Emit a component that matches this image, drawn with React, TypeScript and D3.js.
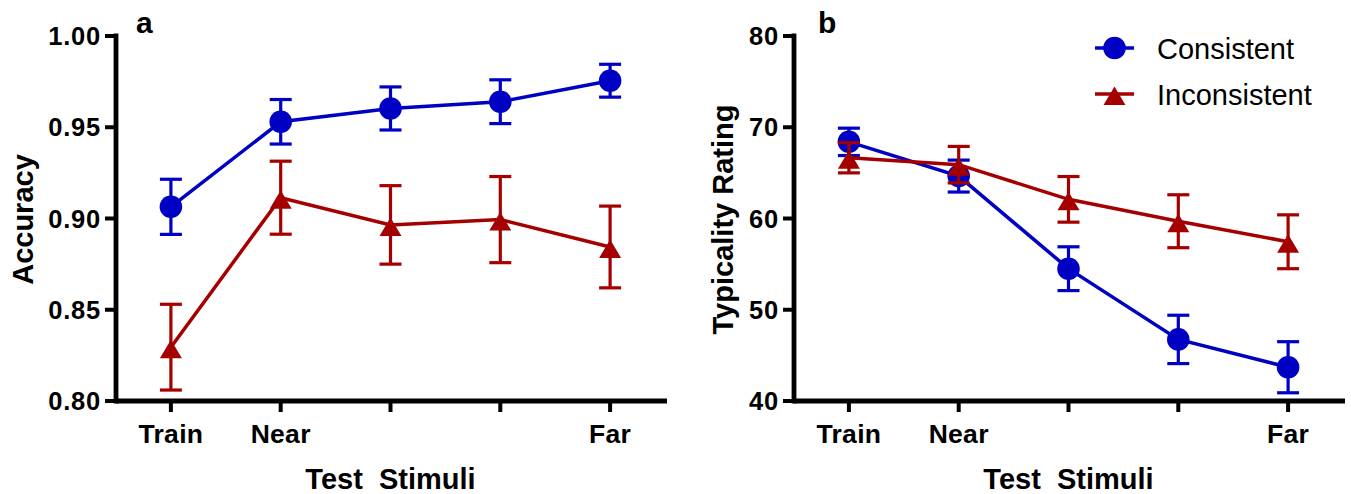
import React from "react";
import * as d3 from "d3";

const categories = ["Train", "Near", "", "", "Far"];
const accConsistent = [0.9064, 0.953, 0.9603, 0.964, 0.9755];
const accConsistentErr = [0.0151, 0.0122, 0.0118, 0.012, 0.009];
const accInconsistent = [0.8295, 0.9114, 0.8965, 0.8994, 0.8844];
const accInconsistentErr = [0.0235, 0.02, 0.0215, 0.0236, 0.0224];
const typConsistent = [68.4, 64.65, 54.5, 46.75, 43.7];
const typConsistentErr = [1.5, 1.75, 2.4, 2.65, 2.8];
const typInconsistent = [66.65, 65.9, 62.1, 59.7, 57.45];
const typInconsistentErr = [1.65, 2.0, 2.5, 2.9, 2.95];
const accTicks = [0.8, 0.85, 0.9, 0.95, 1.0];
const typTicks = [40, 50, 60, 70, 80];
const seriesNames = ["Consistent", "Inconsistent"];

const BLUE = "#0000C4";
const RED = "#A50000";
const FONT = "'Liberation Sans', Arial, Helvetica, sans-serif";

const TOP = 36;
const BOTTOM = 401;

type Series = { vals: number[]; errs: number[]; color: string; marker: "circle" | "triangle" };

function Marker({ kind, x, y, color }: { kind: string; x: number; y: number; color: string }) {
  if (kind === "circle") return <circle cx={x} cy={y} r={11.3} fill={color} />;
  return <path d={`M${x},${y - 7.5} L${x + 11},${y + 11} L${x - 11},${y + 11} Z`} fill={color} />;
}

function Panel({
  axisX, endX, yDomain, ticks, fmt, series, yTitle, titleX, label, labelX,
}: {
  axisX: number; endX: number; yDomain: [number, number]; ticks: number[]; fmt: (v: number) => string;
  series: Series[]; yTitle: string; titleX: number; label: string; labelX: number;
}) {
  const x = d3.scaleLinear().domain([-0.5, 4.5]).range([axisX, endX - 2]);
  const y = d3.scaleLinear().domain(yDomain).range([BOTTOM, TOP]);
  const idx = d3.range(categories.length);
  const line = d3.line<number>().x((_, i) => x(i)).y((d) => y(d));
  return (
    <g>
      {series.map((s, si) => (
        <g key={"e" + si}>
          {s.vals.map((v, i) => (
            <g key={i} stroke={s.color} strokeWidth={3.2}>
              <line x1={x(i)} x2={x(i)} y1={y(v - s.errs[i])} y2={y(v + s.errs[i])} />
              <line x1={x(i) - 11} x2={x(i) + 11} y1={y(v + s.errs[i])} y2={y(v + s.errs[i])} />
              <line x1={x(i) - 11} x2={x(i) + 11} y1={y(v - s.errs[i])} y2={y(v - s.errs[i])} />
            </g>
          ))}
          <path d={line(s.vals) || ""} fill="none" stroke={s.color} strokeWidth={3.5} />
          {s.vals.map((v, i) => (
            <Marker key={"m" + i} kind={s.marker} x={x(i)} y={y(v)} color={s.color} />
          ))}
        </g>
      ))}
      <line x1={axisX} x2={axisX} y1={TOP - 2.5} y2={BOTTOM + 2.5} stroke="#000" strokeWidth={4.8} />
      <line x1={axisX} x2={endX} y1={BOTTOM} y2={BOTTOM} stroke="#000" strokeWidth={4.8} />
      {ticks.map((t) => (
        <g key={t}>
          <line x1={axisX - 11} x2={axisX} y1={y(t)} y2={y(t)} stroke="#000" strokeWidth={4} />
          <text x={axisX - 15} y={y(t) + 9} textAnchor="end" fontFamily={FONT} fontWeight="bold" fontSize={25.5} letterSpacing={0.8}>
            {fmt(t)}
          </text>
        </g>
      ))}
      {idx.map((i) => (
        <g key={"x" + i}>
          <line x1={x(i)} x2={x(i)} y1={BOTTOM} y2={BOTTOM + 11} stroke="#000" strokeWidth={4} />
          <text x={x(i)} y={443} textAnchor="middle" fontFamily={FONT} fontWeight="bold" fontSize={26.5} letterSpacing={0.3}>
            {categories[i]}
          </text>
        </g>
      ))}
      <text
        x={x(2)} y={489} textAnchor="middle" fontFamily={FONT} fontWeight="bold" fontSize={29}
        xmlSpace="preserve" style={{ whiteSpace: "pre" }}
      >
        {"Test  Stimuli"}
      </text>
      <text
        transform={`translate(${titleX},${(TOP + BOTTOM) / 2 + 1}) rotate(-90)`}
        textAnchor="middle" fontFamily={FONT} fontWeight="bold" fontSize={29}
      >
        {yTitle}
      </text>
      <text x={labelX} y={33} fontFamily={FONT} fontWeight="bold" fontSize={30}>
        {label}
      </text>
    </g>
  );
}

export default function App() {
  const f2 = d3.format(".2f");
  const f0 = d3.format("d");
  const legendRows = [
    { name: seriesNames[0], color: BLUE, marker: "circle", y: 48 },
    { name: seriesNames[1], color: RED, marker: "triangle", y: 94 },
  ];
  return (
    <svg width={1351} height={494} style={{ position: "absolute", left: 0, top: 0, background: "#fff" }}>
      <rect width={1351} height={494} fill="#fff" />
      <Panel
        axisX={116} endX={667} yDomain={[0.8, 1.0]} ticks={accTicks} fmt={f2}
        series={[
          { vals: accConsistent, errs: accConsistentErr, color: BLUE, marker: "circle" },
          { vals: accInconsistent, errs: accInconsistentErr, color: RED, marker: "triangle" },
        ]}
        yTitle="Accuracy" titleX={33} label="a" labelX={136}
      />
      <Panel
        axisX={794} endX={1345} yDomain={[40, 80]} ticks={typTicks} fmt={f0}
        series={[
          { vals: typConsistent, errs: typConsistentErr, color: BLUE, marker: "circle" },
          { vals: typInconsistent, errs: typInconsistentErr, color: RED, marker: "triangle" },
        ]}
        yTitle="Typicality Rating" titleX={733} label="b" labelX={818}
      />
      {legendRows.map((r) => (
        <g key={r.name}>
          <line x1={1095} x2={1134} y1={r.y} y2={r.y} stroke={r.color} strokeWidth={3.5} />
          <Marker kind={r.marker} x={1114.5} y={r.y} color={r.color} />
          <text x={1157} y={r.y + 11} fontFamily={FONT} fontSize={29}>
            {r.name}
          </text>
        </g>
      ))}
    </svg>
  );
}
